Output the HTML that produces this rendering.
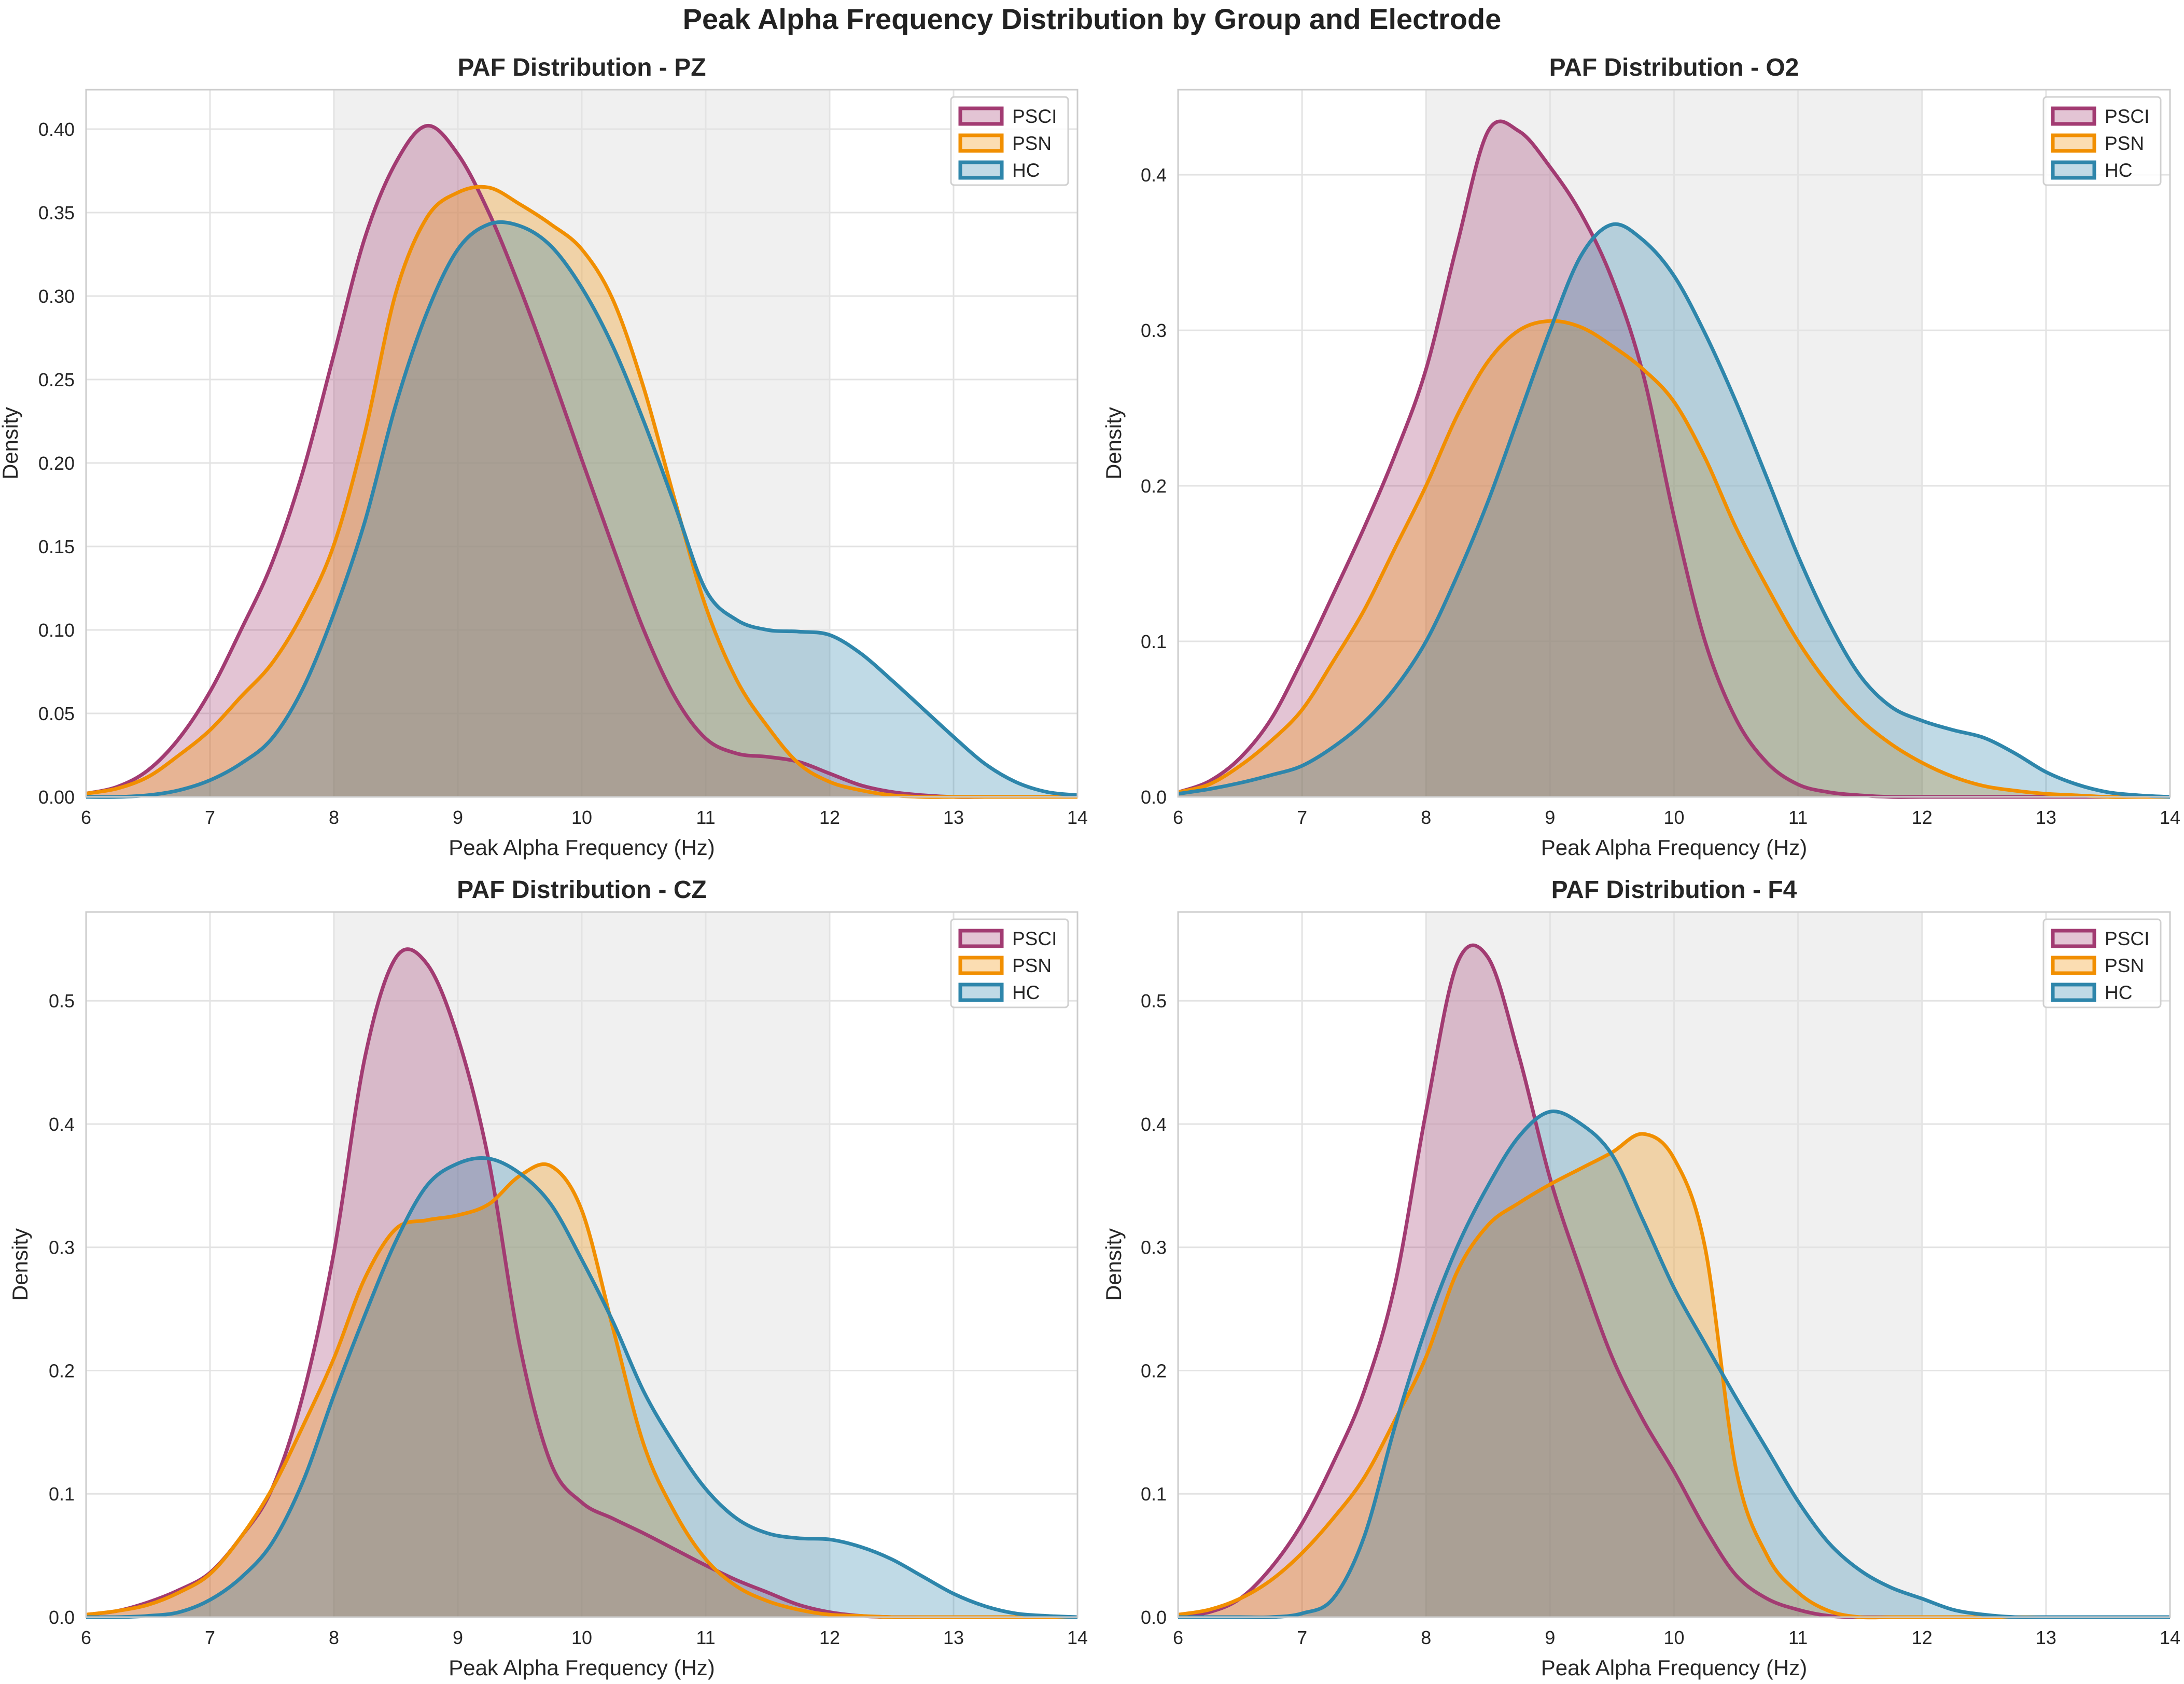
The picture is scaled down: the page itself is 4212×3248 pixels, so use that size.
<!DOCTYPE html>
<html><head><meta charset="utf-8">
<style>
html,body{margin:0;padding:0;background:#fff;}
svg{display:block;font-family:"Liberation Sans",Arial,sans-serif;}
</style></head>
<body>
<svg id="chart" width="4212" height="3248" viewBox="0 0 4212 3248" xmlns="http://www.w3.org/2000/svg">
<rect x="0" y="0" width="4212" height="3248" fill="#fff"/>
<text x="2106" y="56" text-anchor="middle" font-size="56" font-weight="bold" fill="#222">Peak Alpha Frequency Distribution by Group and Electrode</text>
</svg>
<script>
// frequency grid (Hz)
const freqs = [6,6.25,6.5,6.75,7,7.25,7.5,7.75,8,8.25,8.5,8.75,9,9.25,9.5,9.75,10,10.25,10.5,10.75,11,11.25,11.5,11.75,12,12.25,12.5,12.75,13,13.25,13.5,13.75,14];
const groups = ["PSCI","PSN","HC"];
const xTicks = [6,7,8,9,10,11,12,13,14];
const pzTicks = [0,0.05,0.10,0.15,0.20,0.25,0.30,0.35,0.40];
const o2Ticks = [0,0.1,0.2,0.3,0.4];
const czTicks = [0,0.1,0.2,0.3,0.4,0.5];
const f4Ticks = [0,0.1,0.2,0.3,0.4,0.5];
const yMaxes = [0.4236,0.4547,0.572,0.572];
// PZ
const pzPSCI = [0.002,0.006,0.016,0.035,0.063,0.1,0.14,0.195,0.265,0.335,0.38,0.402,0.385,0.35,0.305,0.255,0.202,0.15,0.1,0.06,0.035,0.026,0.024,0.021,0.014,0.007,0.003,0.001,0,0,0,0,0];
const pzPSN = [0.002,0.005,0.012,0.025,0.04,0.06,0.08,0.11,0.151,0.218,0.302,0.347,0.362,0.365,0.355,0.343,0.328,0.298,0.245,0.178,0.114,0.07,0.042,0.02,0.009,0.004,0.001,0,0,0,0,0,0];
const pzHC = [0,0,0.001,0.004,0.01,0.02,0.035,0.065,0.11,0.165,0.235,0.29,0.328,0.343,0.342,0.33,0.305,0.27,0.225,0.175,0.124,0.106,0.1,0.099,0.097,0.086,0.07,0.053,0.036,0.02,0.009,0.003,0.001];
// O2
const o2PSCI = [0.003,0.01,0.025,0.05,0.088,0.13,0.173,0.22,0.275,0.355,0.428,0.428,0.405,0.375,0.333,0.272,0.18,0.1,0.05,0.022,0.008,0.003,0.001,0,0,0,0,0,0,0,0,0,0];
const o2PSN = [0.003,0.008,0.02,0.036,0.056,0.087,0.12,0.16,0.2,0.245,0.28,0.3,0.306,0.302,0.29,0.275,0.254,0.218,0.173,0.135,0.1,0.072,0.05,0.034,0.022,0.013,0.007,0.004,0.002,0.001,0,0,0];
const o2HC = [0.002,0.005,0.009,0.014,0.02,0.032,0.048,0.07,0.1,0.142,0.19,0.245,0.3,0.348,0.368,0.358,0.335,0.298,0.254,0.205,0.155,0.112,0.078,0.058,0.049,0.043,0.038,0.028,0.016,0.008,0.003,0.001,0];
// CZ
const czPSCI = [0.002,0.005,0.012,0.022,0.036,0.065,0.104,0.18,0.296,0.454,0.535,0.53,0.47,0.37,0.22,0.125,0.093,0.08,0.068,0.055,0.042,0.03,0.02,0.01,0.004,0.001,0,0,0,0,0,0,0];
const czPSN = [0.002,0.005,0.01,0.02,0.035,0.065,0.104,0.155,0.21,0.275,0.315,0.322,0.326,0.335,0.358,0.366,0.33,0.235,0.14,0.085,0.047,0.025,0.013,0.006,0.002,0.001,0,0,0,0,0,0,0];
const czHC = [0,0,0.001,0.004,0.014,0.032,0.06,0.11,0.18,0.245,0.305,0.35,0.368,0.372,0.36,0.335,0.29,0.24,0.183,0.14,0.104,0.08,0.068,0.064,0.063,0.057,0.047,0.033,0.019,0.009,0.003,0.001,0];
// F4
const f4PSCI = [0.001,0.004,0.015,0.04,0.076,0.125,0.183,0.27,0.41,0.53,0.535,0.455,0.356,0.28,0.211,0.16,0.118,0.072,0.034,0.015,0.006,0.001,0,0,0,0,0,0,0,0,0,0,0];
const f4PSN = [0.002,0.006,0.015,0.03,0.052,0.08,0.113,0.16,0.211,0.28,0.318,0.336,0.351,0.364,0.377,0.392,0.372,0.3,0.12,0.05,0.02,0.005,0,0,0,0,0,0,0,0,0,0,0];
const f4HC = [0,0,0,0,0.003,0.015,0.065,0.155,0.235,0.3,0.35,0.39,0.41,0.4,0.375,0.322,0.267,0.222,0.178,0.136,0.094,0.06,0.038,0.024,0.015,0.006,0.002,0,0,0,0,0,0];

const panelTitles = ["PAF Distribution - PZ","PAF Distribution - O2","PAF Distribution - CZ","PAF Distribution - F4"];
const panelSeries = [[pzPSCI,pzPSN,pzHC],[o2PSCI,o2PSN,o2HC],[czPSCI,czPSN,czHC],[f4PSCI,f4PSN,f4HC]];
const panelTicks = [pzTicks,o2Ticks,czTicks,f4Ticks];
const tickDigits = [2,1,1,1];
const colors = ["#A23B72","#F18F01","#2E86AB"];
const boxes = [[166,173,2078,1537],[2272,173,4185,1537],[166,1759,2078,3119],[2272,1759,4185,3119]];

const NS="http://www.w3.org/2000/svg";
const svg=document.getElementById('chart');
function mk(tag,attrs,parent){const e=document.createElementNS(NS,tag);for(const k in attrs)e.setAttribute(k,attrs[k]);(parent||svg).appendChild(e);return e;}
function smooth(pts){let d="M"+pts[0][0]+","+pts[0][1];for(let i=0;i<pts.length-1;i++){const p0=pts[Math.max(0,i-1)],p1=pts[i],p2=pts[i+1],p3=pts[Math.min(pts.length-1,i+2)];const c1x=p1[0]+(p2[0]-p0[0])/6,c1y=p1[1]+(p2[1]-p0[1])/6,c2x=p2[0]-(p3[0]-p1[0])/6,c2y=p2[1]-(p3[1]-p1[1])/6;d+=" C"+c1x+","+c1y+" "+c2x+","+c2y+" "+p2[0]+","+p2[1];}return d;}

panelSeries.forEach((series,pi)=>{
  const [x0,y0,x1,y1]=boxes[pi];
  const xs=v=>x0+(v-6)/8*(x1-x0);
  const ys=v=>y1-v/yMaxes[pi]*(y1-y0);
  const g=mk('g',{});
  
  
  const band=mk('rect',{x:xs(8),y:y0,width:xs(12)-xs(8),height:y1-y0,fill:'#808080','fill-opacity':0.12},g);
  
  
  xTicks.forEach(t=>{
    const l=mk('line',{x1:xs(t),x2:xs(t),y1:y0,y2:y1,stroke:'#e3e3e3','stroke-width':3},g);
    
    
    const tx=mk('text',{x:xs(t),y:y1+52,'text-anchor':'middle','font-size':36,fill:'#262626'},g);
    tx.textContent=t;
    
    
  });
  panelTicks[pi].forEach(t=>{
    const l=mk('line',{x1:x0,x2:x1,y1:ys(t),y2:ys(t),stroke:'#e3e3e3','stroke-width':3},g);
    
    
    const tx=mk('text',{x:x0-22,y:ys(t)+13,'text-anchor':'end','font-size':36,fill:'#262626'},g);
    tx.textContent=t.toFixed(tickDigits[pi]);
    
    
  });
  series.forEach((vals,si)=>{
    const pts=freqs.map((f,i)=>[xs(f),ys(vals[i]||0)]);
    const line=smooth(pts);
    const area=mk('path',{d:line+" L"+xs(14)+","+y1+" L"+xs(6)+","+y1+" Z",fill:colors[si],'fill-opacity':0.3,stroke:'none'},g);
    
    
  });
  series.forEach((vals,si)=>{
    const pts=freqs.map((f,i)=>[xs(f),ys(vals[i]||0)]);
    const ln=mk('path',{d:smooth(pts),fill:'none',stroke:colors[si],'stroke-width':7,'stroke-linejoin':'round'},g);
    
    
  });
  const fr=mk('rect',{x:x0,y:y0,width:x1-x0,height:y1-y0,fill:'none',stroke:'#cccccc','stroke-width':3},g);
  
  
  const ttl=mk('text',{x:(x0+x1)/2,y:y0-27,'text-anchor':'middle','font-size':48,'font-weight':'bold',fill:'#262626'},g);
  ttl.textContent=panelTitles[pi];
  
  
  const xl=mk('text',{x:(x0+x1)/2,y:y1+112,'text-anchor':'middle','font-size':42,fill:'#262626'},g);
  xl.textContent="Peak Alpha Frequency (Hz)";
  
  
  const lx=x0-(pi%2===0?(pi===0?132:113):110), ly=(y0+y1)/2;
  const yl=mk('text',{x:lx,y:ly,'text-anchor':'middle','font-size':42,fill:'#262626',transform:'rotate(-90 '+lx+' '+ly+')'},g);
  yl.textContent="Density";
  
  
  // legend
  const lgx=x1-244, lgy=y0+14;
  const lg=mk('g',{},g);
  
  
  mk('rect',{x:lgx,y:lgy,width:226,height:170,rx:6,fill:'#fff','fill-opacity':0.85,stroke:'#d0d0d0','stroke-width':3},lg);
  groups.forEach((gname,si)=>{
    const ey=lgy+22+si*52;
    const sw=mk('rect',{x:lgx+18,y:ey,width:80,height:30,fill:colors[si],'fill-opacity':0.3,stroke:colors[si],'stroke-width':7},lg);
    
    
    const t=mk('text',{x:lgx+118,y:ey+28,'font-size':37,fill:'#262626'},lg);
    t.textContent=gname;
    
    
  });
});
</script>
</body></html>
